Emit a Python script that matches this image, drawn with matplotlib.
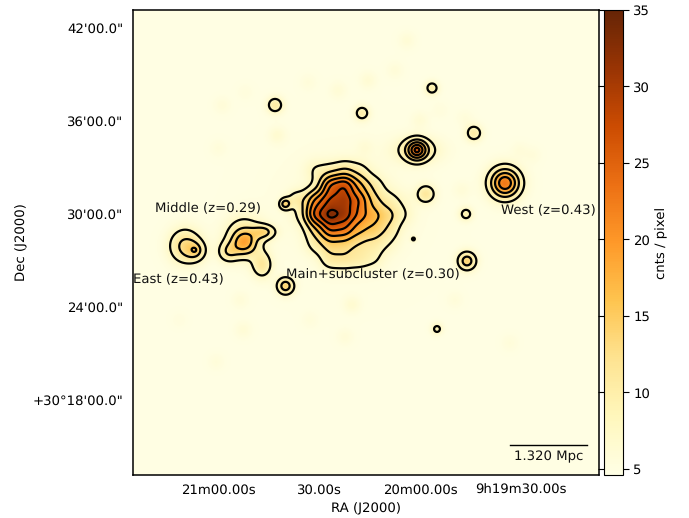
import numpy as np
import matplotlib
matplotlib.use("Agg")
import matplotlib.pyplot as plt

plt.rcParams["text.hinting"] = "no_hinting"

W, H = 689, 518
# main + subcluster surface brightness, sampled at image-pixel nodes (amplitude in cnts/pixel)
main_x = [315, 330, 345, 360, 375,
          315, 330, 345, 360, 375, 390,
          300, 315, 330, 345, 360, 375, 390, 405,
          300, 315, 330, 345, 360, 375, 390, 405,
          315, 330, 345, 360, 375, 390, 405,
          315, 330, 345, 360, 375, 390,
          330, 345, 360, 375]
main_y = [170] * 5 + [185] * 6 + [200] * 8 + [215] * 8 + [230] * 7 + [245] * 6 + [260] * 4
main_amp = [2.2, 2.0, 3.7, 2.3, 0.3,
            0.3, 11.6, 13.8, 5.9, 2.7, 0.3,
            1.5, 9.0, 12.5, 14.0, 10.5, 3.7, 2.3, 0.9,
            1.5, 12.7, 17.0, 14.5, 9.0, 6.8, 4.6, 1.7,
            4.2, 11.0, 10.0, 5.9, 5.3, 3.0, 0.2,
            2.5, 4.6, 4.2, 2.9, 2.6, 1.3,
            3.5, 3.5, 3.0, 2.0]
# other sources: x, y, amplitude, sigma x, sigma y
src_x = [345, 285, 295, 244, 244, 264, 262, 228, 185, 196, 195, 285.5, 467, 275, 362, 432, 474, 426, 466, 437, 413.5, 417, 417, 417, 505, 505]
src_y = [208, 204, 199, 243, 237, 232, 265, 252, 246, 251, 250, 286, 261, 105, 113, 88, 133, 194, 214, 329, 239, 150, 150, 150, 183, 183]
src_amp = [1, 8, 2.5, 8, 6.5, 7, 6, 5.5, 8, 5, 2, 9, 9, 5.5, 5, 5, 5.5, 6, 4.5, 4.2, 3.5, 14, 5, 3, 12, 6]
src_sx = [50, 4, 6, 8.5, 13, 8, 7, 7, 11, 7, 2.5, 6, 6.5, 5.8, 5.3, 4.8, 5.8, 6.5, 4.9, 4, 2.2, 7, 16, 1.5, 9.5, 12]
src_sy = [45, 4, 6, 8.5, 14, 5, 9, 7, 12, 7, 2.5, 6, 6.5, 5.8, 5.3, 4.8, 5.8, 6.5, 4.9, 4, 2.2, 7, 9, 1.5, 9.5, 12]
faint_x = [277, 222, 218, 338, 368, 395, 407, 308, 465, 420, 365, 462, 520, 533, 243, 352, 345, 216, 510, 179, 245, 240, 310, 455, 440]
faint_y = [135, 105, 148, 90, 80, 70, 40, 82, 118, 120, 147, 190, 150, 155, 330, 305, 337, 362, 343, 320, 92, 300, 320, 300, 110]
faint_amp = [1.6, 1.0, 0.8, 1.2, 1.4, 1.0, 1.2, 0.8, 0.8, 1.2, 1.0, 1.0, 0.8, 0.8, 1.2, 1.6, 1.0, 0.8, 0.8, 0.5, 0.6, 1.0, 0.7, 0.8, 0.6]
background = 4.8
levels = [8, 12, 16, 20, 24, 28, 32]
cbar_ticks = [5, 10, 15, 20, 25, 30, 35]
ra_pos = [218, 319, 420, 521]
ra_labels = ["21m00.00s", "30.00s", "20m00.00s", "9h19m30.00s"]
dec_pos = [28, 121, 214, 307, 400]
dec_labels = ["42'00.0\"", "36'00.0\"", "30'00.0\"", "24'00.0\"", "+30°18'00.0\""]

FS = 9.55
fig = plt.figure(figsize=(W / 100, H / 100), dpi=100)
L, R, T, B = 133, 599, 10, 475
ax = fig.add_axes([L / W, 1 - B / H, (R - L) / W, (B - T) / H])
cax = fig.add_axes([603.5 / W, 1 - B / H, 19.5 / W, (B - T) / H])

xx, yy = np.meshgrid(np.arange(L, R + 1.0), np.arange(T, B + 1.0))
Z = np.full(xx.shape, background, dtype=float)
for x0, y0, a in zip(main_x, main_y, main_amp):
    Z += a * np.exp(-((xx - x0) ** 2 + (yy - y0) ** 2) / (2 * 8.0 ** 2))
for x0, y0, a, sx, sy in zip(src_x, src_y, src_amp, src_sx, src_sy):
    Z += a * np.exp(-((xx - x0) ** 2 / (2 * sx ** 2) + (yy - y0) ** 2 / (2 * sy ** 2)))
for x0, y0, a in zip(faint_x, faint_y, faint_amp):
    Z += a * np.exp(-((xx - x0) ** 2 + (yy - y0) ** 2) / (2 * 6.0 ** 2))

im = ax.imshow(Z, cmap="YlOrBr", vmin=4.6, vmax=35, origin="upper",
               extent=[L, R, B, T], interpolation="bilinear", aspect="auto")
ax.contour(xx, yy, Z, levels=levels, colors="black", linewidths=1.6)
ax.set_xlim(L, R)
ax.set_ylim(B, T)
ax.set_xticks(ra_pos, ra_labels)
ax.set_yticks(dec_pos, dec_labels)
ax.tick_params(axis="x", length=0, labelsize=FS, pad=6.5)
ax.tick_params(axis="y", length=0, labelsize=FS, pad=7.2)
ax.set_xlabel("RA (J2000)", fontsize=FS, labelpad=4)
ax.set_ylabel("Dec (J2000)", fontsize=FS, labelpad=3)
for s in ax.spines.values():
    s.set_linewidth(1.1)

ax.text(155, 209, "Middle (z=0.29)", fontsize=FS, va="center", ha="left", color="#111111")
ax.text(133, 280, "East (z=0.43)", fontsize=FS, va="center", ha="left", color="#111111")
ax.text(286, 274.5, "Main+subcluster (z=0.30)", fontsize=FS, va="center", ha="left", color="#111111")
ax.text(501, 211, "West (z=0.43)", fontsize=FS, va="center", ha="left", color="#111111")
ax.plot([510, 587], [444.5, 444.5], color="black", lw=1)
ax.text(548.5, 457, "1.320 Mpc", fontsize=FS, va="center", ha="center", color="#111111")

cb = fig.colorbar(im, cax=cax, ticks=cbar_ticks)
cb.set_label("cnts / pixel", fontsize=FS, labelpad=3.5)
cb.ax.tick_params(labelsize=FS, left=True, right=True, length=4)
fig.savefig("out.png", dpi=100)
